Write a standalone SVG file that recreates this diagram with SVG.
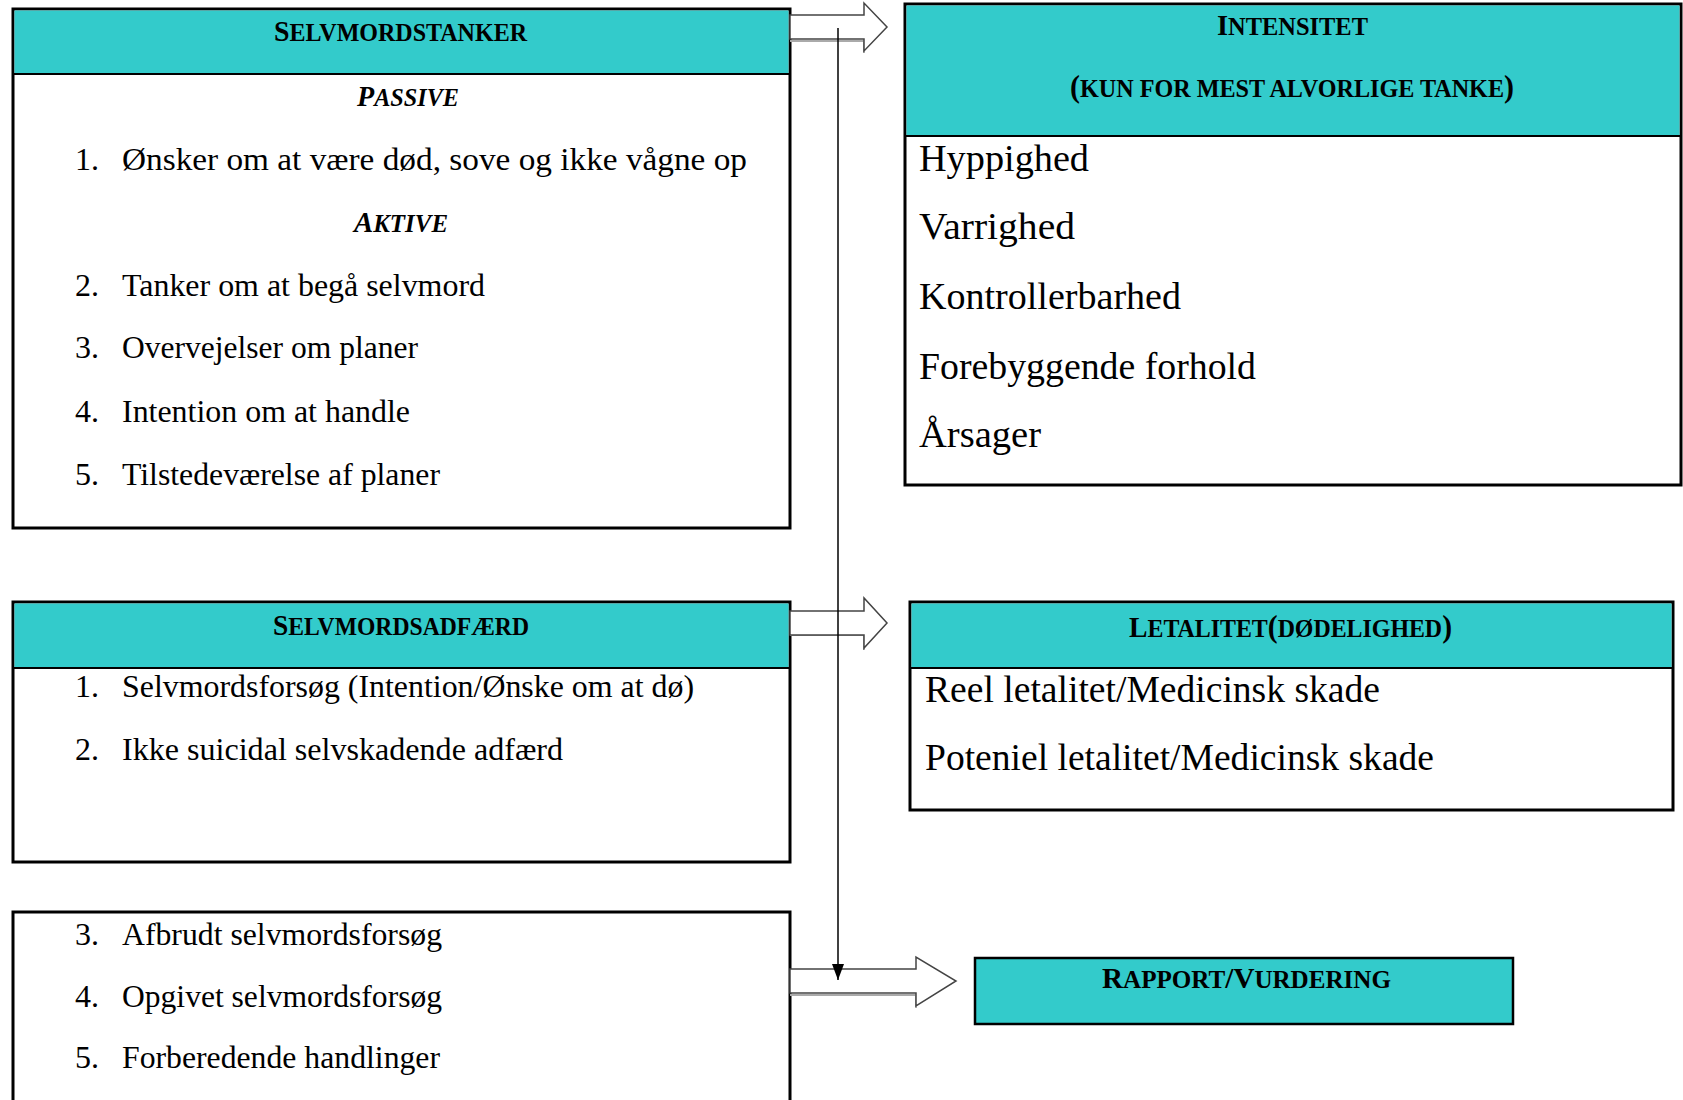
<svg xmlns="http://www.w3.org/2000/svg" width="1683" height="1100" viewBox="0 0 1683 1100">
<style>
.box{fill:#fff;stroke:#000;stroke-width:3}
.hdr{fill:#33CBCB}
.hl{stroke:#000;stroke-width:1.8}
.t{font-family:"Liberation Serif","Times New Roman",serif;font-size:32px;fill:#000}
.tr{font-family:"Liberation Serif","Times New Roman",serif;font-size:37px;fill:#000}
.h{font-family:"Liberation Serif","Times New Roman",serif;font-weight:bold;fill:#000}
.big{font-size:29px}
.sm{font-size:25px}
.it{font-style:italic}
.arrow{fill:#fff;stroke:#444;stroke-width:1.5}
.shadow{fill:none;stroke:#aaa;stroke-width:2}
</style>
<defs>
<marker id="ahd" markerWidth="12" markerHeight="16" refX="6" refY="16" orient="0" markerUnits="userSpaceOnUse" viewBox="0 0 12 16">
<path d="M0,0 L12,0 L6,16 Z" fill="#000"/>
</marker>
</defs>

<g id="node-selvmordstanker">
<rect class="box" x="13" y="9" width="777" height="519"/>
<rect class="hdr" x="14.5" y="10.5" width="774" height="63.5"/>
<line class="hl" x1="13" y1="74" x2="790" y2="74"/>
<text class="h" x="274" y="41" textLength="253" lengthAdjust="spacingAndGlyphs"><tspan class="big">S</tspan><tspan class="sm">ELVMORDSTANKER</tspan></text>
<text class="h it" x="357" y="106" textLength="102" lengthAdjust="spacingAndGlyphs"><tspan class="big">P</tspan><tspan class="sm">ASSIVE</tspan></text>
<text class="t" x="75" y="170">1.</text>
<text class="t" x="122" y="170" textLength="625" lengthAdjust="spacingAndGlyphs">Ønsker om at være død, sove og ikke vågne op</text>
<text class="h it" x="354" y="232" textLength="94" lengthAdjust="spacingAndGlyphs"><tspan class="big">A</tspan><tspan class="sm">KTIVE</tspan></text>
<text class="t" x="75" y="296">2.</text>
<text class="t" x="122" y="296" textLength="363" lengthAdjust="spacingAndGlyphs">Tanker om at begå selvmord</text>
<text class="t" x="75" y="358">3.</text>
<text class="t" x="122" y="358" textLength="296" lengthAdjust="spacingAndGlyphs">Overvejelser om planer</text>
<text class="t" x="75" y="422">4.</text>
<text class="t" x="122" y="422" textLength="288" lengthAdjust="spacingAndGlyphs">Intention om at handle</text>
<text class="t" x="75" y="485">5.</text>
<text class="t" x="122" y="485" textLength="318" lengthAdjust="spacingAndGlyphs">Tilstedeværelse af planer</text>
</g>

<g id="node-intensitet">
<rect class="box" x="905" y="4" width="776" height="481"/>
<rect class="hdr" x="906.5" y="5.5" width="773" height="130"/>
<line class="hl" x1="905" y1="136" x2="1681" y2="136"/>
<text class="h" x="1217" y="35" textLength="151" lengthAdjust="spacingAndGlyphs"><tspan class="big">I</tspan><tspan class="sm">NTENSITET</tspan></text>
<text class="h" x="1070" y="97" textLength="444" lengthAdjust="spacingAndGlyphs"><tspan font-size="31px">(</tspan><tspan class="sm">KUN FOR MEST ALVORLIGE TANKE</tspan><tspan font-size="31px">)</tspan></text>
<text class="tr" x="919" y="171" textLength="170" lengthAdjust="spacingAndGlyphs">Hyppighed</text>
<text class="tr" x="919" y="239" textLength="156" lengthAdjust="spacingAndGlyphs">Varrighed</text>
<text class="tr" x="919" y="309" textLength="262" lengthAdjust="spacingAndGlyphs">Kontrollerbarhed</text>
<text class="tr" x="919" y="379" textLength="337" lengthAdjust="spacingAndGlyphs">Forebyggende forhold</text>
<text class="tr" x="919" y="447" textLength="122" lengthAdjust="spacingAndGlyphs">Årsager</text>
</g>

<g id="node-selvmordsadfaerd">
<rect class="box" x="13" y="602" width="777" height="260"/>
<rect class="hdr" x="14.5" y="603.5" width="774" height="64.5"/>
<line class="hl" x1="13" y1="668" x2="790" y2="668"/>
<text class="h" x="273" y="635" textLength="256" lengthAdjust="spacingAndGlyphs"><tspan class="big">S</tspan><tspan class="sm">ELVMORDSADFÆRD</tspan></text>
<text class="t" x="75" y="697">1.</text>
<text class="t" x="122" y="697" textLength="572" lengthAdjust="spacingAndGlyphs">Selvmordsforsøg (Intention/Ønske om at dø)</text>
<text class="t" x="75" y="760">2.</text>
<text class="t" x="122" y="760" textLength="441" lengthAdjust="spacingAndGlyphs">Ikke suicidal selvskadende adfærd</text>
</g>

<g id="node-letalitet">
<rect class="box" x="910" y="602" width="763" height="208"/>
<rect class="hdr" x="911.5" y="603.5" width="760" height="64.5"/>
<line class="hl" x1="910" y1="668" x2="1673" y2="668"/>
<text class="h" x="1129" y="637" textLength="323" lengthAdjust="spacingAndGlyphs"><tspan class="big">L</tspan><tspan class="sm">ETALITET</tspan><tspan font-size="31px">(</tspan><tspan class="sm">DØDELIGHED</tspan><tspan font-size="31px">)</tspan></text>
<text class="tr" x="925" y="702" textLength="455" lengthAdjust="spacingAndGlyphs">Reel letalitet/Medicinsk skade</text>
<text class="tr" x="925" y="770" textLength="509" lengthAdjust="spacingAndGlyphs">Poteniel letalitet/Medicinsk skade</text>
</g>

<g id="node-selvmordsadfaerd-2">
<path d="M13,1102 L13,912 L790,912 L790,1102" fill="#fff" stroke="#000" stroke-width="3"/>
<text class="t" x="75" y="945">3.</text>
<text class="t" x="122" y="945" textLength="320" lengthAdjust="spacingAndGlyphs">Afbrudt selvmordsforsøg</text>
<text class="t" x="75" y="1007">4.</text>
<text class="t" x="122" y="1007" textLength="320" lengthAdjust="spacingAndGlyphs">Opgivet selvmordsforsøg</text>
<text class="t" x="75" y="1068">5.</text>
<text class="t" x="122" y="1068" textLength="318" lengthAdjust="spacingAndGlyphs">Forberedende handlinger</text>
</g>

<g id="node-rapport">
<rect x="975" y="958" width="538" height="66" fill="#33CBCB" stroke="#000" stroke-width="2.5"/>
<text class="h" x="1102" y="988" textLength="289" lengthAdjust="spacingAndGlyphs"><tspan class="big">R</tspan><tspan class="sm">APPORT</tspan><tspan font-size="29px">/</tspan><tspan class="big">V</tspan><tspan class="sm">URDERING</tspan></text>
</g>

<g id="connectors">
<polyline class="shadow" points="790,41 864,41 864,53"/>
<polygon class="arrow" points="790,15 864,15 864,3 887,27 864,51 864,39 790,39"/>
<polyline class="shadow" points="790,635 864,635 864,650"/>
<polygon class="arrow" points="790,611 864,611 864,598 887,623 864,648 864,635 790,635"/>
<polyline class="shadow" points="790,995 916,995 916,1008"/>
<polygon class="arrow" points="790,969 916,969 916,957 956,981 916,1006 916,993 790,993"/>
<line x1="838" y1="28" x2="838" y2="980" stroke="#000" stroke-width="1.5" marker-end="url(#ahd)"/>
</g>
</svg>
